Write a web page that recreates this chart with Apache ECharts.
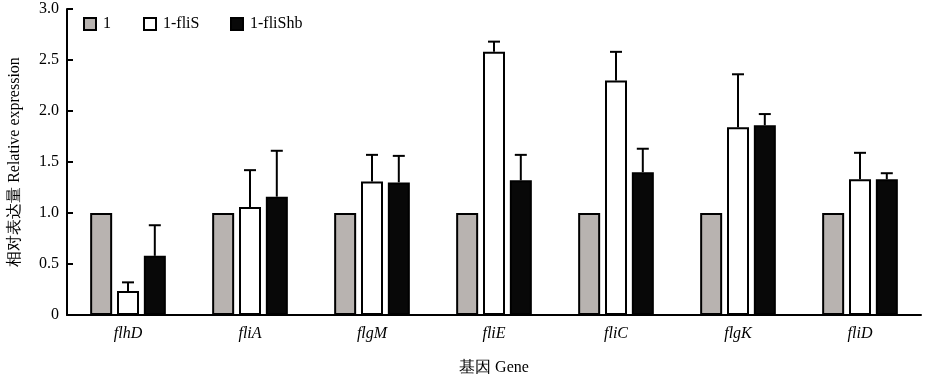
<!DOCTYPE html>
<html><head><meta charset="utf-8">
<script src="https://cdn.jsdelivr.net/npm/echarts@6/dist/echarts.min.js"></script>
<style>html,body{margin:0;padding:0;background:#fff}#c{width:925px;height:374px}</style>
</head><body><div id="c"></div>
<script>
var categories = ['flhD','fliA','flgM','fliE','fliC','flgK','fliD'];
var seriesNames = ['1','1-fliS','1-fliShb'];
var valCtrl = [1,1,1,1,1,1,1];
var valFliS = [0.235,1.06,1.31,2.58,2.30,1.84,1.33];
var valFliShb = [0.58,1.16,1.30,1.32,1.40,1.86,1.33];
var errFliS = [0.32,1.42,1.57,2.68,2.58,2.36,1.59];
var errFliShb = [0.88,1.61,1.56,1.57,1.63,1.97,1.39];
var yTicks = [0,0.5,1.0,1.5,2.0,2.5,3.0];

var font = '"Liberation Serif","Times New Roman",serif';
var chart = echarts.init(document.getElementById('c'));
function errSeries(vals, tops, offset){
  return {
    type:'custom', silent:true, z:1,
    data: vals.map(function(v,i){return [i,v,tops[i]];}),
    renderItem:function(params, api){
      var b = api.coord([api.value(0), api.value(1)]);
      var t = api.coord([api.value(0), api.value(2)]);
      var x = b[0] + offset;
      return {type:'group', children:[
        {type:'line', shape:{x1:x,y1:b[1],x2:x,y2:t[1]}, style:{stroke:'#000',lineWidth:2}},
        {type:'line', shape:{x1:x-6,y1:t[1],x2:x+6,y2:t[1]}, style:{stroke:'#000',lineWidth:2}}
      ]};
    }
  };
}
var barBase = {type:'bar', barWidth:22, barGap:'22%', z:2};
function leg(name, left){
  return {left:left, top:11, itemWidth:12, itemHeight:12, icon:'rect', itemGap:0,
    textStyle:{fontFamily:font,fontSize:16,color:'#000',padding:[0,0,0,2]}, data:[name]};
}
chart.setOption({
  animation:false,
  grid:{left:67,right:4,top:9,bottom:59,outerBoundsMode:'none',containLabel:false},
  legend:[leg(seriesNames[0],78),leg(seriesNames[1],138),leg(seriesNames[2],225)],
  xAxis:{
    type:'category', data:categories,
    name:'基因 Gene', nameLocation:'middle', nameGap:45,
    nameTextStyle:{fontFamily:font,fontSize:16,color:'#000'},
    axisLine:{lineStyle:{color:'#000',width:2}},
    axisTick:{inside:true,length:6,lineStyle:{color:'#000',width:2}},
    axisLabel:{fontFamily:font,fontSize:16,color:'#000',fontStyle:'italic',margin:11}
  },
  yAxis:{
    type:'value', min:0, max:3, interval:0.5,
    name:'相对表达量 Relative expression', nameLocation:'middle', nameGap:44,
    nameTextStyle:{fontFamily:font,fontSize:16,color:'#000'},
    axisLine:{show:true,lineStyle:{color:'#000',width:2}},
    axisTick:{show:true,inside:true,length:6,lineStyle:{color:'#000',width:2}},
    splitLine:{show:false},
    axisLabel:{fontFamily:font,fontSize:16,color:'#000',margin:8,
      formatter:function(v){return v===0?'0':v.toFixed(1);}}
  },
  series:[
    Object.assign({}, barBase, {name:seriesNames[0], data:valCtrl,
      itemStyle:{color:'#b8b3b0',borderColor:'#000',borderWidth:2}}),
    Object.assign({}, barBase, {name:seriesNames[1], data:valFliS,
      itemStyle:{color:'#fff',borderColor:'#000',borderWidth:2}}),
    Object.assign({}, barBase, {name:seriesNames[2], data:valFliShb,
      itemStyle:{color:'#080808',borderColor:'#000',borderWidth:2}}),
    errSeries(valFliS, errFliS, 0),
    errSeries(valFliShb, errFliShb, 26.8)
  ]
});
</script></body></html>
